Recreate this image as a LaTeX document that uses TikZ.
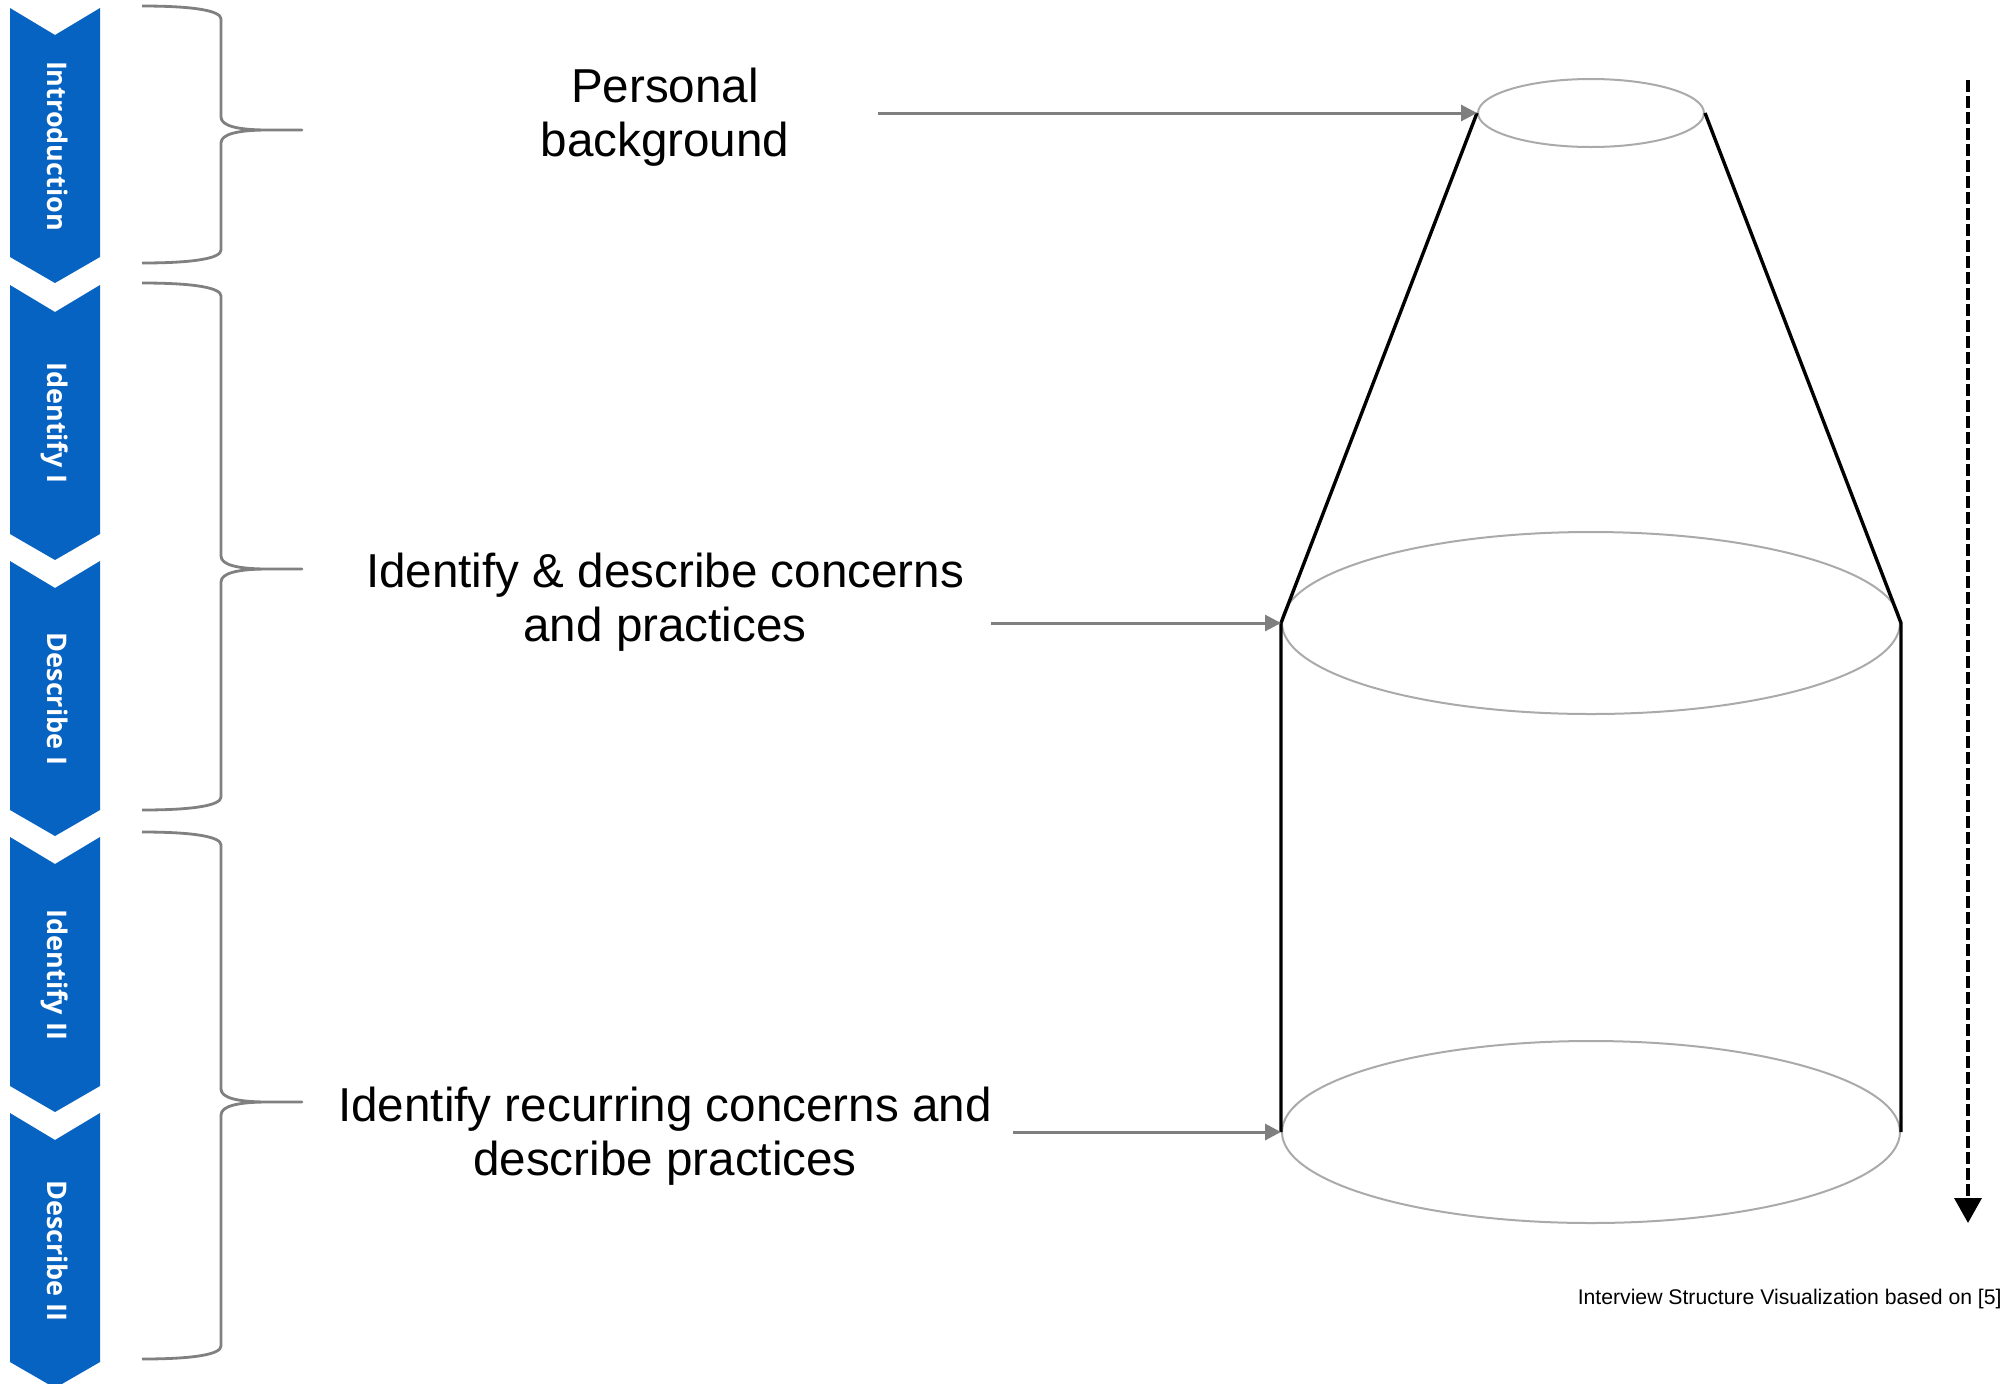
\documentclass[tikz,border=0pt]{standalone}
\usepackage{fontspec}
\setmainfont{Liberation Sans}
\newfontfamily\stagefont{Open Sans}
\usetikzlibrary{arrows.meta,shapes.geometric}

\definecolor{stageblue}{RGB}{6,99,193}
\definecolor{bracegray}{RGB}{128,128,128}
\definecolor{arrowgray}{RGB}{127,127,127}
\definecolor{rimgray}{RGB}{170,170,170}

\tikzset{
  stagelabel/.style={text=white, rotate=-90, inner sep=0pt,
    font=\stagefont\bfseries\fontsize{13.5}{16}\selectfont,
    text height=0.714em, text depth=0pt},
  stagebrace/.style={draw=bracegray, line width=1.4pt, line join=round},
  rim/.style={ellipse, draw=rimgray, line width=1pt, inner sep=0pt},
  coneedge/.style={draw=black, line width=1.7pt, line join=round},
  topic/.style={align=center, inner sep=0pt,
    font=\fontsize{23.8}{26.8}\selectfont},
  feed/.style={draw=arrowgray, line width=1.5pt,
    -{Triangle[length=8pt,width=8pt]}},
  flow/.style={draw=black, line width=1.8pt, dash pattern=on 6pt off 2pt,
    -{Triangle[length=12.5pt,width=13.5pt]}},
  credit/.style={inner sep=0pt, font=\fontsize{10.6}{12}\selectfont}
}

\begin{document}
\begin{tikzpicture}[x=0.5pt,y=-0.5pt]
\useasboundingbox (0,0) rectangle (2010,1383);

% interview stages as a column of chevrons
\foreach \t/\lab/\nm in {8/Introduction/stIntro, 285/Identify I/stIdA,
    561/Describe I/stDescA, 837/Identify II/stIdB, 1113/Describe II/stDescB} {
  \fill[stageblue] (10,\t) -- (55,\t+27) -- (100,\t) -- (100,\t+249)
    -- (55,\t+275) -- (10,\t+249) -- cycle;
  \node[stagelabel] (\nm) at (55,\t+138) {\lab};
}

% braces grouping the stages
\foreach \yt/\yp/\yb in {6/130/263, 283/569/810, 832/1102/1359} {
  \draw[stagebrace] (142,\yt) .. controls (196,\yt) and (221,\yt+5) .. (221,\yt+13)
    -- (221,\yp-13) .. controls (221,\yp-4) and (238,\yp) .. (268,\yp)
    -- (302,\yp) -- (268,\yp)
    .. controls (238,\yp) and (221,\yp+4) .. (221,\yp+13)
    -- (221,\yb-13) .. controls (221,\yb-5) and (196,\yb) .. (142,\yb);
}

% topic labels (base anchor sits on the last line)
\node[topic, anchor=base] (tBackground) at (665,156) {Personal\\background};
\node[topic, anchor=base] (tConcerns) at (665,641) {Identify \& describe concerns\\and practices};
\node[topic, anchor=base] (tRecurring) at (665,1175) {Identify recurring concerns and\\describe practices};

% funnel widening into a cylinder
\node[rim, minimum width=113pt, minimum height=34pt] (rimTop) at (1591,113) {};
\node[rim, minimum width=309pt, minimum height=91pt] (rimMid) at (1591,623) {};
\node[rim, minimum width=309pt, minimum height=91pt] (rimBot) at (1591,1132) {};
\draw[coneedge] (rimTop.west) -- (rimMid.west) -- (rimBot.west);
\draw[coneedge] (rimTop.east) -- (rimMid.east) -- (rimBot.east);

% pointers from labels to levels
\coordinate (oBackground) at (878,113);
\coordinate (oConcerns) at (991,623);
\coordinate (oRecurring) at (1013,1132);
\draw[feed] (oBackground) -- (rimTop.west);
\draw[feed] (oConcerns) -- (rimMid.west);
\draw[feed] (oRecurring) -- (rimBot.west);

% time direction
\coordinate (flowStart) at (1968,80);
\coordinate (flowEnd) at (1968,1223);
\draw[flow] (flowStart) -- (flowEnd);

\node[credit, anchor=base east] (source) at (2002,1304)
  {Interview Structure Visualization based on [5]};
\end{tikzpicture}
\end{document}
